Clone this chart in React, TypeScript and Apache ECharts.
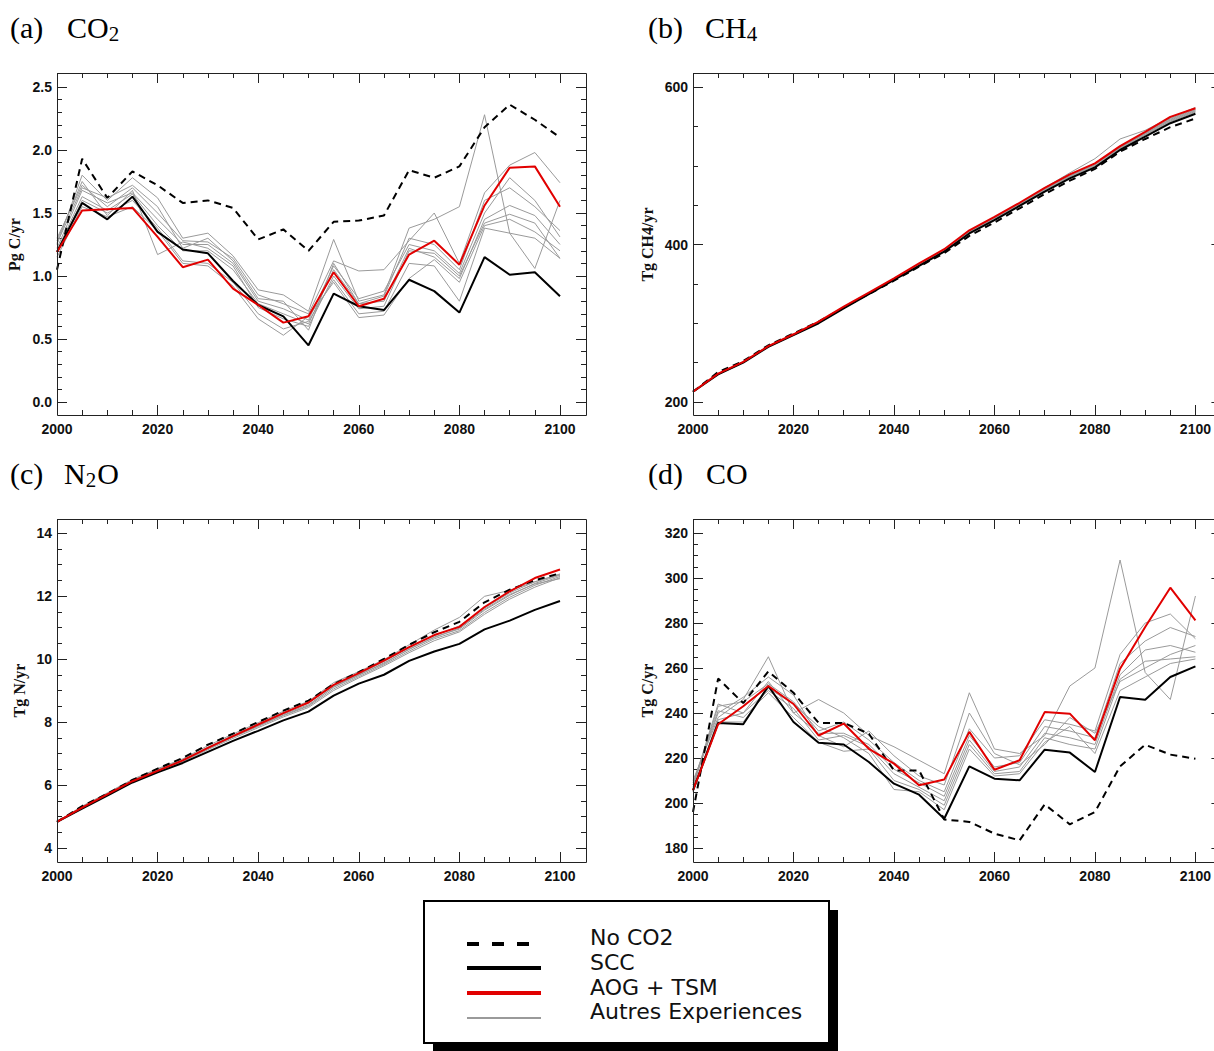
import React, { useEffect, useRef } from "react";
import * as echarts from "echarts";

// ---------- DATA ----------
const years = [2000, 2005, 2010, 2015, 2020, 2025, 2030, 2035, 2040, 2045, 2050, 2055, 2060, 2065, 2070, 2075, 2080, 2085, 2090, 2095, 2100];

// (a) CO2  (Pg C/yr)
const co2NoCO2 = [1.05, 1.93, 1.62, 1.83, 1.72, 1.58, 1.6, 1.54, 1.29, 1.37, 1.2, 1.43, 1.44, 1.48, 1.84, 1.78, 1.87, 2.18, 2.36, 2.24, 2.1];
const co2SCC = [1.19, 1.58, 1.45, 1.63, 1.35, 1.21, 1.18, 0.96, 0.77, 0.68, 0.45, 0.86, 0.76, 0.73, 0.97, 0.88, 0.71, 1.15, 1.01, 1.03, 0.84];
const co2AOG = [1.19, 1.52, 1.53, 1.54, 1.31, 1.07, 1.13, 0.9, 0.77, 0.63, 0.68, 1.03, 0.76, 0.82, 1.17, 1.28, 1.09, 1.56, 1.86, 1.87, 1.55];
const co2Other1 = [1.25, 1.8, 1.6, 1.78, 1.62, 1.3, 1.34, 1.16, 0.89, 0.85, 0.72, 1.29, 0.8, 0.85, 1.38, 1.45, 1.55, 2.28, 1.34, 1.3, 1.14];
const co2Other2 = [1.3, 1.72, 1.55, 1.7, 1.5, 1.28, 1.27, 1.14, 0.85, 0.78, 0.7, 1.12, 1.04, 1.05, 1.28, 1.5, 1.1, 1.66, 1.88, 1.98, 1.74];
const co2Other3 = [1.22, 1.68, 1.58, 1.66, 1.45, 1.25, 1.25, 1.1, 0.8, 0.74, 0.65, 1.08, 0.82, 0.88, 1.25, 1.2, 1.02, 1.5, 1.78, 1.6, 1.31];
const co2Other4 = [1.2, 1.63, 1.52, 1.65, 1.4, 1.2, 1.2, 1.05, 0.78, 0.7, 0.62, 1.05, 0.78, 0.8, 1.22, 1.15, 0.98, 1.45, 1.56, 1.48, 1.25];
const co2Other5 = [1.28, 1.75, 1.48, 1.68, 1.17, 1.27, 1.22, 1.08, 0.75, 0.66, 0.6, 1.0, 0.74, 0.76, 1.2, 1.18, 1.0, 1.42, 1.49, 1.42, 1.14];
const co2Other6 = [1.18, 1.6, 1.5, 1.6, 1.38, 1.12, 1.1, 0.95, 0.7, 0.58, 0.64, 0.97, 0.7, 0.72, 1.1, 1.08, 0.8, 1.38, 1.34, 1.06, 1.6];
const co2Other7 = [1.15, 1.55, 1.47, 1.55, 1.36, 1.1, 1.08, 0.92, 0.66, 0.53, 0.68, 0.95, 0.67, 0.69, 0.98, 1.13, 0.95, 1.4, 1.45, 1.35, 1.2];
const co2Other8 = [1.26, 1.7, 1.62, 1.72, 1.55, 1.22, 1.3, 1.12, 0.82, 0.8, 0.57, 1.1, 0.78, 0.84, 1.3, 1.25, 1.05, 1.6, 1.7, 1.55, 1.36];

// (b) CH4  (Tg CH4/yr)
const ch4NoCO2 = [213, 238, 252, 272, 287, 302, 320, 337, 354, 372, 389, 411, 428, 446, 464, 481, 496, 518, 534, 549, 560];
const ch4SCC = [213, 235, 250, 270, 285, 300, 319, 337, 355, 373, 391, 414, 431, 449, 467, 484, 498, 520, 537, 554, 566];
const ch4AOG = [213, 236, 251, 271, 286, 302, 321, 339, 357, 376, 394, 418, 435, 453, 472, 489, 503, 525, 543, 562, 573];
const ch4Other1 = [213, 236, 251, 271, 286, 302, 320, 338, 356, 375, 393, 417, 434, 452, 472, 491, 509, 534, 545, 561, 574];
const ch4Other2 = [213, 236, 251, 271, 286, 301, 320, 338, 356, 374, 392, 416, 433, 451, 470, 487, 501, 523, 541, 559, 571];
const ch4Other3 = [213, 235, 250, 270, 285, 301, 319, 337, 355, 374, 392, 415, 432, 450, 469, 486, 500, 522, 540, 557, 569];
const ch4Other4 = [213, 236, 251, 271, 286, 301, 320, 338, 356, 375, 393, 416, 433, 451, 470, 487, 502, 523, 541, 558, 570];
const ch4Other5 = [213, 235, 250, 270, 285, 300, 319, 337, 355, 373, 391, 415, 432, 450, 468, 485, 499, 521, 539, 556, 568];
const ch4Other6 = [213, 236, 251, 271, 286, 302, 320, 338, 357, 375, 393, 417, 434, 452, 471, 488, 502, 524, 542, 560, 572];

// (c) N2O  (Tg N/yr)
const n2oNoCO2 = [4.83, 5.33, 5.72, 6.16, 6.52, 6.86, 7.28, 7.63, 8.0, 8.36, 8.68, 9.2, 9.58, 10.0, 10.45, 10.85, 11.18, 11.8, 12.2, 12.5, 12.72];
const n2oSCC = [4.83, 5.25, 5.66, 6.08, 6.4, 6.7, 7.05, 7.4, 7.72, 8.05, 8.33, 8.84, 9.22, 9.5, 9.94, 10.24, 10.48, 10.94, 11.22, 11.56, 11.84];
const n2oAOG = [4.83, 5.28, 5.7, 6.12, 6.45, 6.78, 7.18, 7.55, 7.92, 8.28, 8.62, 9.18, 9.55, 9.95, 10.38, 10.76, 11.02, 11.65, 12.15, 12.57, 12.84];
const n2oOther1 = [4.83, 5.33, 5.75, 6.18, 6.52, 6.83, 7.25, 7.62, 7.98, 8.34, 8.66, 9.25, 9.6, 9.98, 10.45, 10.92, 11.32, 11.99, 12.18, 12.45, 12.68];
const n2oOther2 = [4.83, 5.3, 5.72, 6.14, 6.48, 6.78, 7.18, 7.55, 7.9, 8.25, 8.55, 9.1, 9.48, 9.88, 10.3, 10.7, 10.95, 11.55, 12.02, 12.4, 12.66];
const n2oOther3 = [4.83, 5.29, 5.7, 6.12, 6.45, 6.75, 7.15, 7.52, 7.86, 8.2, 8.5, 9.05, 9.44, 9.82, 10.25, 10.64, 10.9, 11.48, 11.96, 12.34, 12.62];
const n2oOther4 = [4.83, 5.27, 5.69, 6.11, 6.44, 6.74, 7.12, 7.48, 7.82, 8.16, 8.46, 9.0, 9.4, 9.78, 10.2, 10.58, 10.86, 11.42, 11.9, 12.28, 12.58];
const n2oOther5 = [4.83, 5.28, 5.7, 6.13, 6.46, 6.77, 7.16, 7.53, 7.88, 8.22, 8.52, 9.12, 9.5, 9.85, 10.32, 10.68, 10.98, 11.58, 12.05, 12.38, 12.55];
const n2oOther6 = [4.83, 5.31, 5.73, 6.15, 6.5, 6.8, 7.2, 7.58, 7.94, 8.3, 8.6, 9.15, 9.52, 9.92, 10.36, 10.74, 11.05, 11.62, 12.1, 12.45, 12.7];

// (d) CO  (Tg C/yr)
const coNoCO2 = [196, 255.3, 244.4, 258.5, 249, 235.6, 235.6, 230.8, 214.5, 214.5, 192.7, 191.6, 186.4, 183.4, 199.4, 190.5, 196, 216.3, 225.9, 221.5, 219.7];
const coSCC = [205.6, 235.6, 235, 252, 236, 226.8, 226, 218.2, 208.6, 203.7, 193, 216.3, 210.8, 210.1, 223.7, 222.4, 213.8, 247.1, 245.9, 256, 260.7];
const coAOG = [205.6, 235, 243, 252, 244, 230, 235.3, 224.1, 217.5, 207.9, 210.4, 231.6, 214.8, 219, 240.4, 239.7, 227.9, 259.7, 278.2, 295.7, 281.2];
const coOther1 = [208, 244, 240, 254, 240, 246, 240, 230, 225, 219, 213, 249, 224, 222, 230, 252, 260, 308, 258, 246, 292];
const coOther2 = [207, 243, 245, 253, 245, 232, 236, 228, 218, 210, 205, 233, 220, 221, 237, 235, 232, 266, 280, 284, 273];
const coOther3 = [210, 238, 246, 265, 240, 231, 231, 226, 215, 209, 203, 230, 216, 218, 234, 232, 229, 262, 272, 278, 274];
const coOther4 = [206, 237, 240, 250, 242, 228, 230, 225, 213, 207, 201, 228, 214, 216, 231, 229, 226, 257, 268, 270, 267];
const coOther5 = [209, 241, 238, 249, 238, 227, 223, 224, 210, 206, 199, 226, 213, 214, 229, 226, 224, 255, 263, 264, 265];
const coOther6 = [205, 236, 236, 251, 244, 234, 229, 222, 206, 205, 197, 224, 212, 213, 227, 234, 222, 250, 256, 262, 264];
const coOther7 = [208, 240, 247, 256, 248, 230, 225, 232, 221, 212, 208, 240, 222, 217, 226, 238, 231, 254, 260, 266, 270];

const legendLabels = ["No CO2", "SCC", "AOG + TSM", "Autres Experiences"];

// ---------- STYLE / LAYOUT ----------
const W = 1214;
const H = 1051;
const RED = "#e10000";
const GRAY = "#9a9a9a";
const AXIS = "#222";
const X_INNER_W = 503; // 2000..2100

const panels = [
  {
    left: 57, top: 73, frameW: 529, frameH: 342, padTop: 14, padBottom: 13,
    yMin: 0, yMax: 2.5, yInterval: 0.5, yMinorSplit: 5, decimals: 1,
    yName: "Pg C/yr", nameGap: 35,
    noco2: co2NoCO2, scc: co2SCC, aog: co2AOG,
    others: [co2Other1, co2Other2, co2Other3, co2Other4, co2Other5, co2Other6, co2Other7, co2Other8],
  },
  {
    left: 693, top: 73, frameW: 529, frameH: 342, padTop: 14, padBottom: 13,
    yMin: 200, yMax: 600, yInterval: 200, yMinorSplit: 4, decimals: 0,
    yName: "Tg CH4/yr", nameGap: 38,
    noco2: ch4NoCO2, scc: ch4SCC, aog: ch4AOG,
    others: [ch4Other1, ch4Other2, ch4Other3, ch4Other4, ch4Other5, ch4Other6],
  },
  {
    left: 57, top: 519, frameW: 529, frameH: 343, padTop: 14, padBottom: 14,
    yMin: 4, yMax: 14, yInterval: 2, yMinorSplit: 4, decimals: 0,
    yName: "Tg N/yr", nameGap: 30,
    noco2: n2oNoCO2, scc: n2oSCC, aog: n2oAOG,
    others: [n2oOther1, n2oOther2, n2oOther3, n2oOther4, n2oOther5, n2oOther6],
  },
  {
    left: 693, top: 519, frameW: 529, frameH: 343, padTop: 14, padBottom: 14,
    yMin: 180, yMax: 320, yInterval: 20, yMinorSplit: 4, decimals: 0,
    yName: "Tg C/yr", nameGap: 38,
    noco2: coNoCO2, scc: coSCC, aog: coAOG,
    others: [coOther1, coOther2, coOther3, coOther4, coOther5, coOther6, coOther7],
  },
];

const titles = [
  { x: 10, y: 27, label: "(a)", fx: 67, parts: [["CO", 0], ["2", 1]] },
  { x: 648, y: 27, label: "(b)", fx: 705, parts: [["CH", 0], ["4", 1]] },
  { x: 10, y: 473, label: "(c)", fx: 64, parts: [["N", 0], ["2", 1], ["O", 0]] },
  { x: 648, y: 473, label: "(d)", fx: 706, parts: [["CO", 0]] },
];

const pairs = (vals: number[]) => years.map((y, i) => [y, vals[i]]);

function measure(text: string, font: string): number {
  const c = document.createElement("canvas").getContext("2d");
  if (!c) return text.length * 12;
  c.font = font;
  return c.measureText(text).width;
}

function buildOption() {
  const grid: any[] = [];
  const xAxis: any[] = [];
  const yAxis: any[] = [];
  const series: any[] = [];
  const graphic: any[] = [];

  const tickStyle = { color: AXIS, width: 1 };
  const labelFont = { fontFamily: "Liberation Sans", fontSize: 14, fontWeight: "bold", color: "#111" };

  panels.forEach((p, i) => {
    const innerH = p.frameH - p.padTop - p.padBottom;
    grid.push({ left: p.left, top: p.top + p.padTop, width: X_INNER_W, height: innerH, containLabel: false });
    const rightOffset = p.frameW - X_INNER_W;

    const xBase = {
      type: "value", gridIndex: i, min: 2000, max: 2100, interval: 20,
      axisLine: { show: false, onZero: false },
      axisTick: { show: true, inside: true, length: 10, lineStyle: tickStyle },
      minorTick: { show: true, splitNumber: 4, length: 5, lineStyle: tickStyle },
      splitLine: { show: false }, minorSplitLine: { show: false },
    };
    xAxis.push({
      ...xBase, position: "bottom", offset: p.padBottom,
      axisLabel: { show: true, margin: 7, ...labelFont, formatter: (v: number) => String(v) },
    });
    xAxis.push({ ...xBase, position: "top", offset: p.padTop, axisLabel: { show: false } });

    const yBase = {
      type: "value", gridIndex: i, min: p.yMin, max: p.yMax, interval: p.yInterval,
      axisLine: { show: false, onZero: false },
      axisTick: { show: true, inside: true, length: 10, lineStyle: tickStyle },
      minorTick: { show: true, splitNumber: p.yMinorSplit, length: 5, lineStyle: tickStyle },
      splitLine: { show: false }, minorSplitLine: { show: false },
    };
    yAxis.push({
      ...yBase, position: "left",
      axisLabel: { show: true, margin: 5, ...labelFont, formatter: (v: number) => v.toFixed(p.decimals) },
      name: p.yName, nameLocation: "middle", nameGap: p.nameGap,
      nameTextStyle: { fontFamily: "Liberation Serif", fontSize: 16, fontWeight: "bold", color: "#111" },
    });
    yAxis.push({ ...yBase, position: "right", offset: rightOffset, axisLabel: { show: false } });

    const xi = i * 2;
    const yi = i * 2;
    p.others.forEach((o, k) => {
      series.push({
        type: "line", name: "Autres Experiences " + (k + 1), xAxisIndex: xi, yAxisIndex: yi,
        data: pairs(o), symbol: "none", silent: true,
        lineStyle: { color: GRAY, width: 1 },
      });
    });
    series.push({
      type: "line", name: "No CO2", xAxisIndex: xi, yAxisIndex: yi, data: pairs(p.noco2),
      symbol: "none", silent: true, lineStyle: { color: "#000", width: 2, type: [7, 5] },
    });
    series.push({
      type: "line", name: "SCC", xAxisIndex: xi, yAxisIndex: yi, data: pairs(p.scc),
      symbol: "none", silent: true, lineStyle: { color: "#000", width: 2 },
    });
    series.push({
      type: "line", name: "AOG + TSM", xAxisIndex: xi, yAxisIndex: yi, data: pairs(p.aog),
      symbol: "none", silent: true, lineStyle: { color: RED, width: 2 },
    });

    graphic.push({
      type: "rect", silent: true, z: 100,
      shape: { x: p.left + 0.5, y: p.top + 0.5, width: p.frameW, height: p.frameH },
      style: { fill: "none", stroke: AXIS, lineWidth: 1 },
    });
  });

  // Titles
  const mainFont = 30;
  const subFont = 21;
  titles.forEach((t) => {
    graphic.push({
      type: "text", silent: true,
      style: {
        text: t.label, x: t.x, y: t.y, fill: "#000",
        font: `${mainFont}px "Liberation Serif"`,
        align: "left", verticalAlign: "middle", textAlign: "left", textVerticalAlign: "middle",
      },
    });
    let cx = t.fx;
    t.parts.forEach(([txt, sub]) => {
      const fs = sub ? subFont : mainFont;
      const font = `${fs}px "Liberation Serif"`;
      graphic.push({
        type: "text", silent: true,
        style: {
          text: txt as string, x: cx, y: t.y + (sub ? 7 : 0), fill: "#000", font,
          align: "left", verticalAlign: "middle", textAlign: "left", textVerticalAlign: "middle",
        },
      });
      cx += measure(txt as string, font) + (sub ? 1 : 0);
    });
  });

  // Legend box
  graphic.push({
    type: "rect", silent: true,
    shape: { x: 433, y: 910, width: 405, height: 142 },
    style: { fill: "#000" },
  });
  graphic.push({
    type: "rect", silent: true,
    shape: { x: 424, y: 901, width: 405, height: 142 },
    style: { fill: "#fff", stroke: "#000", lineWidth: 2 },
  });
  const swatches = [
    { y: 944, x2: 529, color: "#000", w: 4, dash: [12, 13] },
    { y: 968, x2: 541, color: "#000", w: 4, dash: null },
    { y: 993, x2: 541, color: RED, w: 4, dash: null },
    { y: 1018, x2: 541, color: GRAY, w: 2, dash: null },
  ];
  const textYs = [937, 962, 987, 1011];
  swatches.forEach((s, i) => {
    graphic.push({
      type: "line", silent: true,
      shape: { x1: 467, y1: s.y, x2: s.x2, y2: s.y },
      style: { stroke: s.color, lineWidth: s.w, lineDash: s.dash || undefined },
    });
    graphic.push({
      type: "text", silent: true,
      style: {
        text: legendLabels[i], x: 590, y: textYs[i], fill: "#111",
        font: `22px "DejaVu Sans"`,
        align: "left", verticalAlign: "middle", textAlign: "left", textVerticalAlign: "middle",
      },
    });
  });

  return {
    animation: false,
    backgroundColor: "#fff",
    grid, xAxis, yAxis, series, graphic,
  };
}

export default function App() {
  const ref = useRef<HTMLDivElement>(null);
  useEffect(() => {
    if (!ref.current) return;
    const chart = echarts.init(ref.current, undefined, { renderer: "svg", width: W, height: H });
    chart.setOption(buildOption() as any);
    return () => chart.dispose();
  }, []);
  return (
    <div
      ref={ref}
      style={{ position: "absolute", left: 0, top: 0, width: W, height: H, background: "#fff" }}
    />
  );
}
